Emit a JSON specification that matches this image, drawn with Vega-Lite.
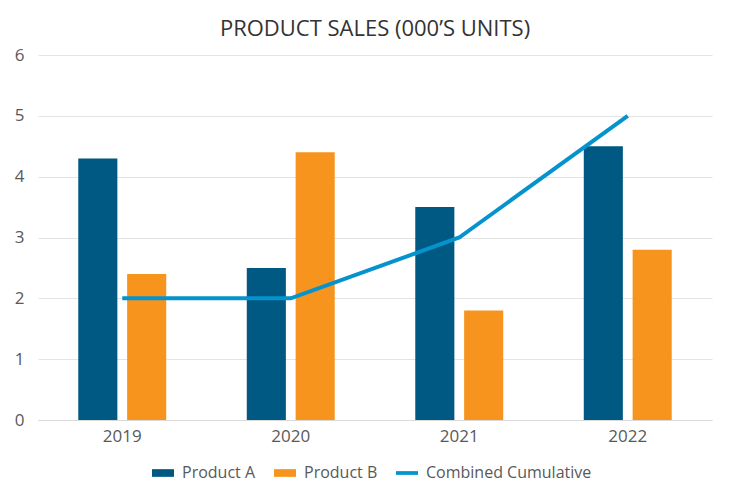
{
  "$schema": "https://vega.github.io/schema/vega-lite/v6.json",
  "width": 674,
  "height": 365,
  "autosize": {"type": "none"},
  "padding": {"left": 38, "top": 55, "right": 21, "bottom": 72},
  "background": "white",
  "title": {
    "text": "PRODUCT SALES (000\u2019S UNITS)",
    "font": "Open Sans",
    "fontSize": 22,
    "fontWeight": "normal",
    "color": "#333333",
    "anchor": "middle",
    "offset": 5
  },
  "config": {
    "view": {"stroke": null},
    "font": "Open Sans",
    "axis": {"labelFont": "Open Sans", "labelColor": "#595959"},
    "legend": {"labelFont": "Open Sans"}
  },
  "datasets": {
    "bars": [
      {"year": "2019", "series": "Product A", "value": 4.3},
      {"year": "2019", "series": "Product B", "value": 2.4},
      {"year": "2020", "series": "Product A", "value": 2.5},
      {"year": "2020", "series": "Product B", "value": 4.4},
      {"year": "2021", "series": "Product A", "value": 3.5},
      {"year": "2021", "series": "Product B", "value": 1.8},
      {"year": "2022", "series": "Product A", "value": 4.5},
      {"year": "2022", "series": "Product B", "value": 2.8}
    ],
    "line": [
      {"year": "2019", "series": "Combined Cumulative", "value": 2},
      {"year": "2020", "series": "Combined Cumulative", "value": 2},
      {"year": "2021", "series": "Combined Cumulative", "value": 3},
      {"year": "2022", "series": "Combined Cumulative", "value": 5}
    ]
  },
  "encoding": {
    "x": {
      "field": "year",
      "type": "nominal",
      "scale": {"paddingInner": 0.478, "paddingOuter": 0.239},
      "axis": {
        "title": null,
        "labelAngle": 0,
        "labelFontSize": 17,
        "labelPadding": 8,
        "ticks": false,
        "domainColor": "#d9d9d9",
        "domainWidth": 1
      }
    },
    "y": {
      "field": "value",
      "type": "quantitative",
      "scale": {"domain": [0, 6], "nice": false},
      "axis": {
        "title": null,
        "values": [0, 1, 2, 3, 4, 5, 6],
        "labelFontSize": 17,
        "labelPadding": 14,
        "ticks": false,
        "domain": false,
        "gridColor": "#e3e3e3",
        "gridWidth": 1
      }
    },
    "color": {
      "field": "series",
      "type": "nominal",
      "scale": {
        "domain": ["Product A", "Product B", "Combined Cumulative"],
        "range": ["#005983", "#f7941d", "#0593cd"]
      },
      "legend": {
        "title": null,
        "orient": "none",
        "legendX": 114,
        "legendY": 407,
        "direction": "horizontal",
        "labelFontSize": 16,
        "labelLimit": 400,
        "labelColor": "#595959",
        "symbolSize": 484,
        "labelOffset": 8,
        "columnPadding": 18,
        "encode": {
          "symbols": {
            "update": {
              "shape": {"signal": "datum.value === 'Combined Cumulative' ? 'M-1,-0.17L1,-0.17L1,0.17L-1,0.17Z' : 'M-1,-0.35L1,-0.35L1,0.35L-1,0.35Z'"},
              "fill": {"scale": "color", "field": "value"},
              "strokeWidth": {"value": 0},
              "opacity": {"value": 1}
            }
          }
        }
      }
    }
  },
  "layer": [
    {
      "data": {"name": "bars"},
      "mark": {"type": "bar"},
      "encoding": {
        "xOffset": {"field": "series", "type": "nominal", "scale": {"paddingInner": 0.2, "paddingOuter": 0}}
      }
    },
    {
      "data": {"name": "line"},
      "mark": {"type": "line", "strokeWidth": 4}
    }
  ]
}
